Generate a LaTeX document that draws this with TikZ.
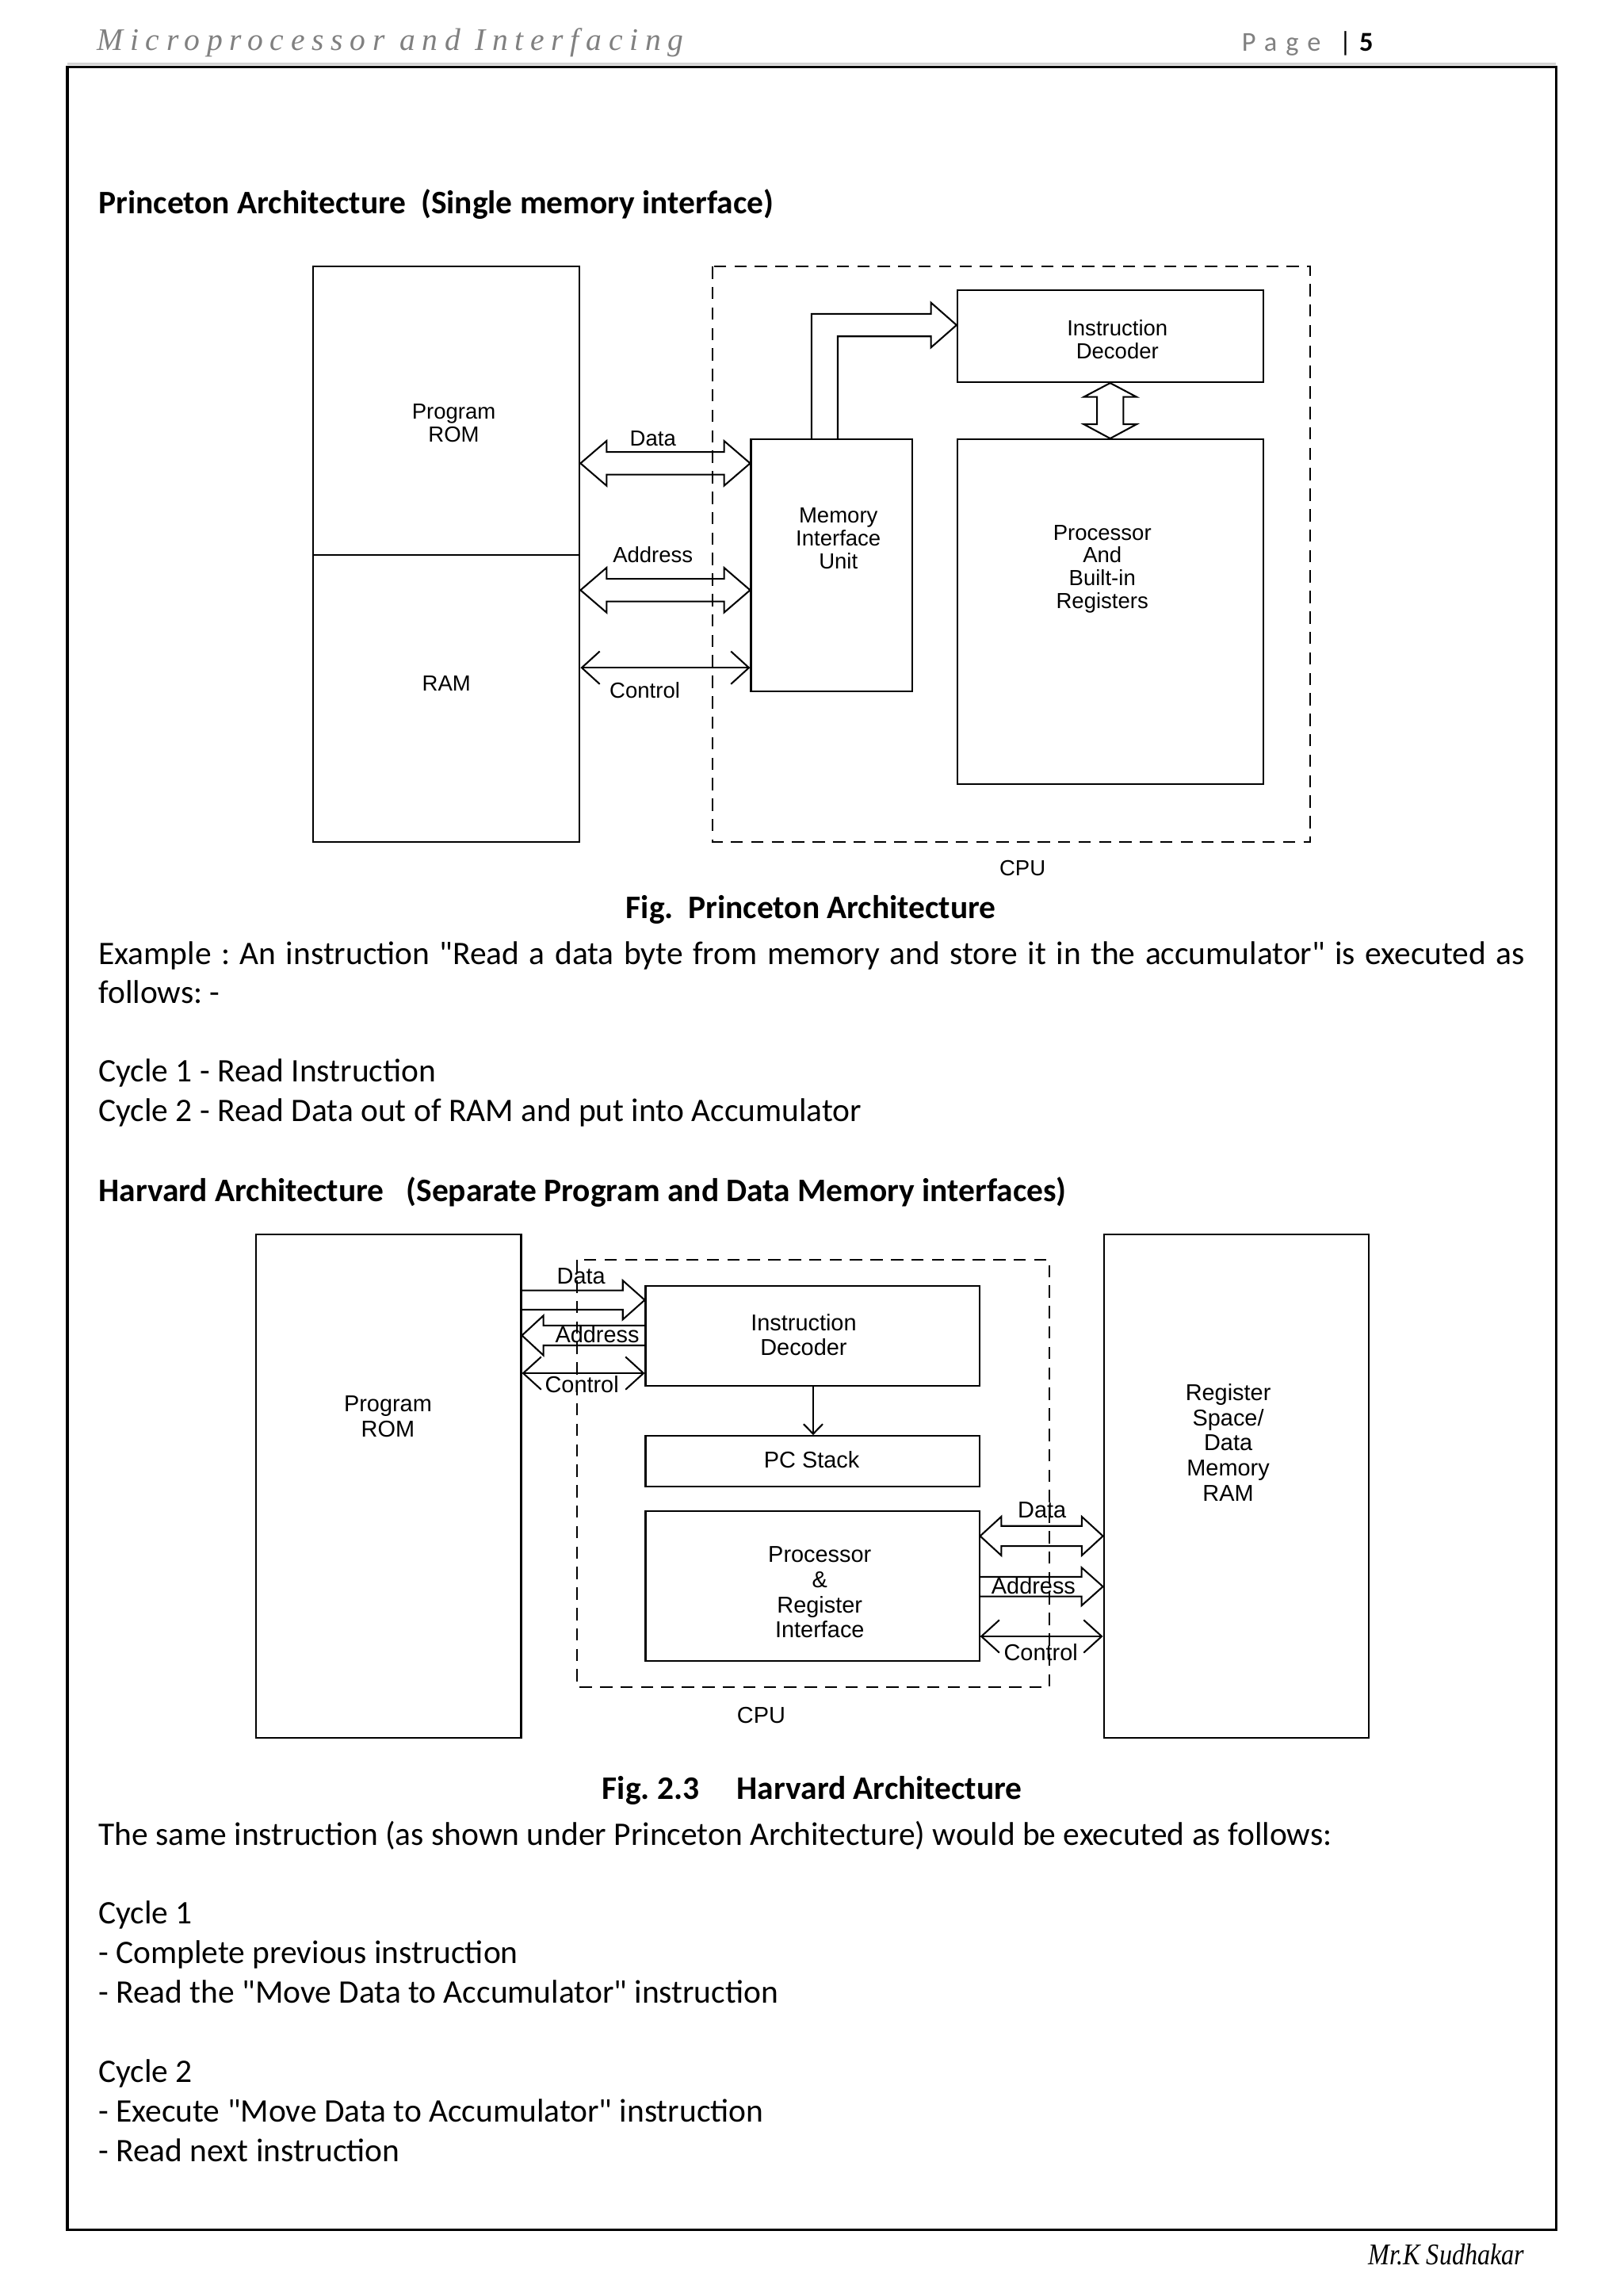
\documentclass[tikz,border=0pt]{standalone}
\usepackage{fontspec}
\usepackage{graphicx}
\setmainfont{Carlito}[Ligatures=TeXOff]
\newfontfamily\diagfont{Liberation Sans}
\newfontfamily\hdrfont[LetterSpace=22]{Liberation Serif}
\newfontfamily\sigfont{Liberation Serif}
\newfontfamily\pagefont[LetterSpace=32]{Carlito}
\usetikzlibrary{calc,fit,arrows.meta}
\definecolor{hdrgray}{gray}{0.5}
\frenchspacing
% fat bus arrows
\newcommand\busD[5]{% double: left tip #1, right tip #2, head length #3, head half #4, shaft half #5
  \draw[bus] let \p1=(#1), \p2=(#2) in (\x1,\y1) -- ($(\x1,\y1)+(#3,-#4)$) -- ($(\x1,\y1)+(#3,-#5)$)
   -- ($(\x2,\y1)+(-#3,-#5)$) -- ($(\x2,\y1)+(-#3,-#4)$) -- (\x2,\y1) -- ($(\x2,\y1)+(-#3,#4)$)
   -- ($(\x2,\y1)+(-#3,#5)$) -- ($(\x1,\y1)+(#3,#5)$) -- ($(\x1,\y1)+(#3,#4)$) -- cycle;}
\newcommand\busR[5]{% tail #1, tip #2 (pointing right)
  \draw[bus] let \p1=(#1), \p2=(#2) in ($(\x1,\y2)+(0,-#5)$) -- ($(\x2,\y2)+(-#3,-#5)$) -- ($(\x2,\y2)+(-#3,-#4)$)
   -- (\x2,\y2) -- ($(\x2,\y2)+(-#3,#4)$) -- ($(\x2,\y2)+(-#3,#5)$) -- ($(\x1,\y2)+(0,#5)$);}
\newcommand\busL[5]{% tip #1 (pointing left), tail #2
  \draw[bus] let \p1=(#1), \p2=(#2) in ($(\x2,\y1)+(0,-#5)$) -- ($(\x1,\y1)+(#3,-#5)$) -- ($(\x1,\y1)+(#3,-#4)$)
   -- (\x1,\y1) -- ($(\x1,\y1)+(#3,#4)$) -- ($(\x1,\y1)+(#3,#5)$) -- ($(\x2,\y1)+(0,#5)$);}
\begin{document}
\frenchspacing
\begin{tikzpicture}[x=0.53677pt, y=-0.53677pt,
  box/.style={draw, line width=0.6pt, inner sep=0pt},
  cpubox/.style={draw, line width=0.6pt, dash pattern=on 4.5pt off 3pt},
  bus/.style={draw, line width=0.6pt, line join=miter},
  ctl/.style={draw, line width=0.6pt, {Straight Barb[length=6.6pt,width=12pt]}-{Straight Barb[length=6.6pt,width=12pt]}},
  thinarr/.style={draw, line width=0.6pt, -{Straight Barb[length=3.6pt,width=7pt]}},
  plbl/.style={font=\diagfont\fontsize{8}{8.35}\selectfont, inner sep=0pt, align=center},
  hlbl/.style={font=\diagfont\fontsize{8.4}{9.2}\selectfont, inner sep=0pt, align=center},
  body/.style={anchor=base west, inner sep=0pt, font=\fontsize{12.05}{14.6}\selectfont},
  bodyb/.style={anchor=base west, inner sep=0pt, font=\fontsize{12.05}{14.6}\selectfont\bfseries}]
\useasboundingbox (0,0) rectangle (1108.9,1568);
% page frame and header / footer
\draw[gray!35, line width=0.8pt] (46,43.6) -- (1063,43.6);
\draw[line width=1pt] (46,45.8) rectangle (1063,1522.8);
\node[anchor=base west, inner sep=0pt, text=hdrgray, font=\hdrfont\itshape\fontsize{11.5}{11.5}\selectfont] (hdr) at (66,34.5) {Microprocessor and Interfacing};
\node[anchor=base west, inner sep=0pt, font=\fontsize{10}{10}\selectfont] (pg) at (848,34.8) {\makebox[35.7pt][l]{\textcolor{hdrgray}{\pagefont Page}}|\hspace{2.8pt}\textbf{5}};
\node[anchor=base west, inner sep=0pt, font=\sigfont\itshape\fontsize{11}{11}\selectfont] (sig) at (934.5,1546.6) {\scalebox{0.85}[1]{Mr.K Sudhakar}};

% ---------------- Princeton ----------------
\node[bodyb] (h1) at (67,146) {Princeton Architecture\ \ (Single memory interface)};
\node[box, fit={(214,182) (396,379)}] (prom) {};
\node[box, fit={(214,379) (396,575)}] (ram) {};
\node[box, fit={(654,198) (863,261)}] (dec) {};
\node[box, fit={(654,300) (863,535.5)}] (proc) {};
\node[box, fit={(513,300) (623,472)}] (miu) {};

\coordinate (pDataL) at (prom.east |- 0,316.4);
\coordinate (pDataR) at (miu.west |- 0,316.4);
\coordinate (pAddrL) at (ram.east |- 0,403);
\coordinate (pAddrR) at (miu.west |- 0,403);
\coordinate (pCtrlL) at (ram.east |- 0,456);
\coordinate (pCtrlR) at (miu.west |- 0,456);
\busD{pDataL}{pDataR}{17.8}{15.3}{7.7}
\busD{pAddrL}{pAddrR}{17.8}{15.3}{7.7}
\draw[ctl] (pCtrlL) -- (pCtrlR);
% memory interface unit -> instruction decoder
\coordinate (pTip) at (dec.west |- 0,222);
\draw[bus] (miu.north -| 554.4,0) -- (554.4,214.3) -- (636,214.3) -- (636,206.7) -- (pTip)
  -- (636,237.3) -- (636,229.7) -- (572.3,229.7) -- (miu.north -| 572.3,0);
% decoder <-> processor
\coordinate (pvT) at (dec.south -| 758.4,0);
\coordinate (pvB) at (proc.north -| 758.4,0);
\draw[bus] let \p1=(pvT), \p2=(pvB) in (\x1,\y1) -- ($(\x1,\y1)+(18,9.5)$) -- ($(\x1,\y1)+(9,9.5)$)
  -- ($(\x2,\y2)+(9,-9.7)$) -- ($(\x2,\y2)+(18,-9.7)$) -- (\x2,\y2) -- ($(\x2,\y2)+(-18,-9.7)$)
  -- ($(\x2,\y2)+(-9,-9.7)$) -- ($(\x1,\y1)+(-9,9.5)$) -- ($(\x1,\y1)+(-18,9.5)$) -- cycle;
\draw[cpubox] (487,182) rectangle (895,575);

\node[plbl] (tProm) at (310,289) {Program\\ROM};
\node[plbl] (tRam) at (305,466.5) {RAM};
\node[plbl] (tPData) at (446,299.5) {Data};
\node[plbl] (tPAddr) at (446,378.8) {Address};
\node[plbl] (tPCtrl) at (440.5,471.3) {Control};
\node[plbl] (tMiu) at (572.7,367.6) {Memory\\Interface\\Unit};
\node[plbl] (tDec) at (763.3,232) {Instruction\\Decoder};
\node[plbl] (tProc) at (753,388.5) {Processor\\And\\Built-in\\Registers};
\node[plbl] (tCpu) at (698.5,593) {CPU};
\node[bodyb, anchor=base] (cap1) at (554,627) {Fig.\ \ Princeton Architecture};

% ---------------- text ----------------
\node[body] (ex1) at (67,658.5) {\hbox to 523pt{Example : An instruction "Read a data byte from memory and store it in the accumulator" is executed as}};
\node[body] (ex2) at (67,685) {follows: -};
\node[body] (ex3) at (67,739) {Cycle 1 - Read Instruction};
\node[body] (ex4) at (67,766) {Cycle 2 - Read Data out of RAM and put into Accumulator};
\node[bodyb] (h2) at (67,820.5) {Harvard Architecture\ \ \ (Separate Program and Data Memory interfaces)};

% ---------------- Harvard ----------------
\node[box, fit={(175,843) (356,1187)}] (hrom) {};
\node[box, fit={(754,843) (935,1187)}] (hram) {};
\node[box, fit={(441,878) (669,946.3)}] (hdec) {};
\node[box, fit={(441,980.6) (669,1015)}] (hpc) {};
\node[box, fit={(441,1032) (669,1134.5)}] (hproc) {};

\coordinate (hDataL) at (hrom.east |- 0,887.8);
\coordinate (hDataR) at (hdec.west |- 0,887.8);
\coordinate (hAddrL) at (hrom.east |- 0,912);
\coordinate (hAddrR) at (hdec.west |- 0,912);
\coordinate (hCtrlL) at (hrom.east |- 0,937.8);
\coordinate (hCtrlR) at (hdec.west |- 0,937.8);
\busR{hDataL}{hDataR}{15}{13.3}{6.6}
\busL{hAddrL}{hAddrR}{14.7}{13.6}{6.8}
\draw[ctl] (hCtrlL) -- (hCtrlR);

\coordinate (hData2L) at (hproc.east |- 0,1049);
\coordinate (hData2R) at (hram.west |- 0,1049);
\coordinate (hAddr2L) at (hproc.east |- 0,1083.5);
\coordinate (hAddr2R) at (hram.west |- 0,1083.5);
\coordinate (hCtrl2L) at (hproc.east |- 0,1117.5);
\coordinate (hCtrl2R) at (hram.west |- 0,1117.5);
\busD{hData2L}{hData2R}{14.5}{13.3}{6.9}
\busR{hAddr2L}{hAddr2R}{14.6}{13}{6.7}
\draw[ctl] (hCtrl2L) -- (hCtrl2R);
\draw[thinarr] (hdec.south -| 555.5,0) -- (hpc.north -| 555.5,0);
\draw[cpubox] (394,860.5) rectangle (717,1152);

\node[hlbl] (tHprom) at (265,967.5) {Program\\ROM};
\node[hlbl] (tHram) at (839,985) {Register\\Space/\\Data\\Memory\\RAM};
\node[hlbl] (tHdec) at (549,911.5) {Instruction\\Decoder};
\node[hlbl] (tHpc) at (554.5,996.8) {PC Stack};
\node[hlbl] (tHproc) at (560,1087.5) {Processor\\\&\\Register\\Interface};
\node[hlbl] (tHd1) at (397,871.7) {Data};
\node[hlbl] (tHa1) at (408,911.5) {Address};
\node[hlbl] (tHc1) at (397.5,945.6) {Control};
\node[hlbl] (tHd2) at (711.8,1031.3) {Data};
\node[hlbl] (tHa2) at (706,1082.7) {Address};
\node[hlbl] (tHc2) at (711,1128.3) {Control};
\node[hlbl] (tHcpu) at (520,1171.5) {CPU};
\node[bodyb] (cap2) at (411,1229) {\makebox[49.4pt][l]{Fig. 2.3}Harvard Architecture};

% ---------------- text ----------------
\node[body] (t1) at (67,1260) {The same instruction (as shown under Princeton Architecture) would be executed as follows:};
\node[body] (t2) at (67,1314) {Cycle 1};
\node[body] (t3) at (67,1341) {- Complete previous instruction};
\node[body] (t4) at (67,1368) {- Read the "Move Data to Accumulator" instruction};
\node[body] (t5) at (67,1422) {Cycle 2};
\node[body] (t6) at (67,1449) {- Execute "Move Data to Accumulator" instruction};
\node[body] (t7) at (67,1476) {- Read next instruction};
\end{tikzpicture}
\end{document}
